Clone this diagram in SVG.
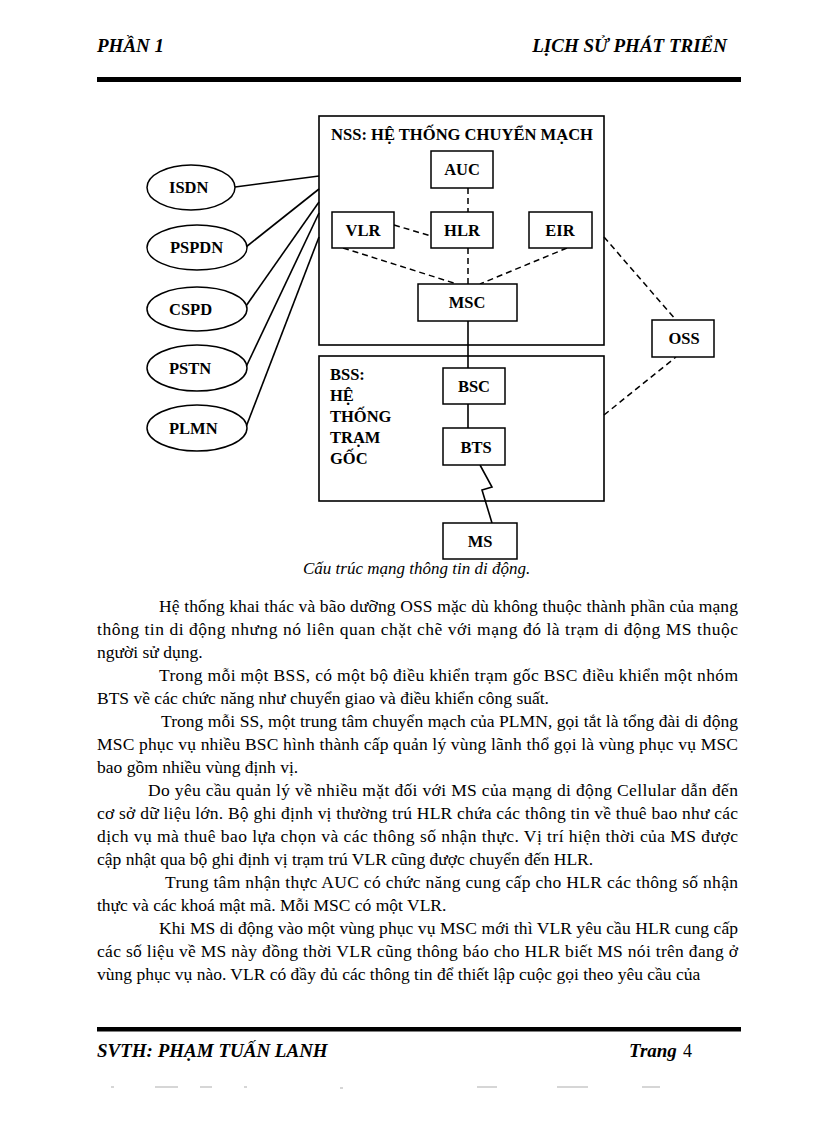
<svg xmlns="http://www.w3.org/2000/svg" width="816" height="1123" viewBox="0 0 816 1123">
<style>
  .hdr { font-family: "Liberation Serif", "Times New Roman", serif; font-weight: bold; font-style: italic; font-size: 19px; fill: #000; }
  .body { font-family: "Liberation Serif", "Times New Roman", serif; font-size: 17.5px; fill: #000; }
  .cap { font-family: "Liberation Serif", "Times New Roman", serif; font-style: italic; font-size: 17px; fill: #000; }
  .lbl { font-family: "Liberation Serif", "Times New Roman", serif; font-weight: bold; font-size: 16.5px; fill: #000; }
  .ttl { font-family: "Liberation Serif", "Times New Roman", serif; font-weight: bold; font-size: 16.6px; fill: #000; }
  .box { fill: #fff; stroke: #000; stroke-width: 1.5; }
  .frame { fill: none; stroke: #000; stroke-width: 1.6; }
  .solid { fill: none; stroke: #000; stroke-width: 1.6; }
  .dash { fill: none; stroke: #000; stroke-width: 1.5; stroke-dasharray: 6 4; }
  .mid { text-anchor: middle; }
  .noise { stroke: #bbb; stroke-width: 1.2; }
</style>

<!-- Header -->
<g id="header">
  <text class="hdr" x="97" y="52">PHẦN 1</text>
  <text class="hdr" x="727" y="52" text-anchor="end">LỊCH SỬ PHÁT TRIỂN</text>
  <rect x="97" y="77" width="644" height="5" fill="#000"/>
</g>

<!-- Containers -->
<g id="nss">
  <rect class="frame" x="319" y="116" width="285" height="229"/>
  <text class="ttl" x="331" y="140" textLength="262" lengthAdjust="spacingAndGlyphs">NSS: HỆ THỐNG CHUYỂN MẠCH</text>
</g>
<g id="bss">
  <rect class="frame" x="319" y="356" width="285" height="145"/>
  <text class="lbl" x="330" y="380">BSS:</text>
  <text class="lbl" x="330" y="401">HỆ</text>
  <text class="lbl" x="330" y="422">THỐNG</text>
  <text class="lbl" x="330" y="443">TRẠM</text>
  <text class="lbl" x="330" y="464">GỐC</text>
</g>

<!-- Connectors -->
<g id="connectors">
  <line class="solid" x1="235" y1="187" x2="319" y2="176"/>
  <line class="solid" x1="246" y1="247" x2="319" y2="189"/>
  <line class="solid" x1="246" y1="306" x2="319" y2="202"/>
  <line class="solid" x1="246" y1="367" x2="319" y2="213"/>
  <line class="solid" x1="246" y1="427" x2="319" y2="237"/>
  <line class="dash" x1="468" y1="188" x2="468" y2="212"/>
  <line class="dash" x1="468" y1="248" x2="468" y2="284"/>
  <line class="dash" x1="394" y1="225" x2="431" y2="236"/>
  <line class="dash" x1="343" y1="248" x2="457" y2="284"/>
  <line class="dash" x1="567" y1="248" x2="480" y2="284"/>
  <line class="dash" x1="604" y1="237" x2="676" y2="320"/>
  <line class="dash" x1="604" y1="415" x2="676" y2="357"/>
  <line class="solid" x1="468" y1="321" x2="468" y2="368"/>
  <line class="solid" x1="468" y1="404" x2="468" y2="428"/>
  <polyline class="solid" points="480,465 492,487 482,490 492,523"/>
</g>

<!-- Nodes -->
<g id="isdn"><ellipse class="box" cx="191" cy="187.5" rx="44" ry="22.5"/><text class="lbl" x="169" y="193">ISDN</text></g>
<g id="pspdn"><ellipse class="box" cx="197" cy="247.5" rx="50" ry="22.5"/><text class="lbl" x="170" y="253">PSPDN</text></g>
<g id="cspd"><ellipse class="box" cx="197" cy="309" rx="50" ry="22"/><text class="lbl" x="169" y="315">CSPD</text></g>
<g id="pstn"><ellipse class="box" cx="197" cy="368" rx="50" ry="23"/><text class="lbl" x="169" y="374">PSTN</text></g>
<g id="plmn"><ellipse class="box" cx="197" cy="428" rx="50" ry="23"/><text class="lbl" x="169" y="434">PLMN</text></g>

<g id="auc"><rect class="box" x="431" y="151" width="62" height="37"/><text class="lbl mid" x="462" y="175">AUC</text></g>
<g id="vlr"><rect class="box" x="332" y="212" width="62" height="36"/><text class="lbl mid" x="363" y="236">VLR</text></g>
<g id="hlr"><rect class="box" x="431" y="212" width="62" height="36"/><text class="lbl mid" x="462" y="236">HLR</text></g>
<g id="eir"><rect class="box" x="529" y="212" width="63" height="36"/><text class="lbl mid" x="560" y="236">EIR</text></g>
<g id="msc"><rect class="box" x="418" y="284" width="99" height="37"/><text class="lbl mid" x="467" y="308">MSC</text></g>
<g id="oss"><rect class="box" x="652" y="320" width="62" height="37"/><text class="lbl mid" x="684" y="344">OSS</text></g>
<g id="bsc"><rect class="box" x="443" y="368" width="62" height="36"/><text class="lbl mid" x="474" y="392">BSC</text></g>
<g id="bts"><rect class="box" x="443" y="428" width="62" height="37"/><text class="lbl mid" x="476" y="453">BTS</text></g>
<g id="ms"><rect class="box" x="443" y="523" width="74" height="36"/><text class="lbl mid" x="480" y="547">MS</text></g>

<text class="cap" x="303" y="574">Cấu trúc mạng thông tin di động.</text>

<!-- Body text -->
<g id="body">
  <text class="body" x="159" y="612" textLength="579" lengthAdjust="spacing">Hệ thống khai thác và bão dưỡng OSS mặc dù không thuộc thành phần của mạng</text>
  <text class="body" x="97" y="635" textLength="641" lengthAdjust="spacing">thông tin di động nhưng nó liên quan chặt chẽ với mạng đó là trạm di động MS thuộc</text>
  <text class="body" x="97" y="658">người sử dụng.</text>
  <text class="body" x="159" y="681" textLength="579" lengthAdjust="spacing">Trong mỗi một BSS, có một bộ điều khiển trạm gốc BSC điều khiển một nhóm</text>
  <text class="body" x="97" y="704">BTS về các chức năng như chuyển giao và điều khiển công suất.</text>
  <text class="body" x="161" y="727" textLength="577" lengthAdjust="spacing">Trong mỗi SS, một trung tâm chuyển mạch của PLMN, gọi tắt là tổng đài di động</text>
  <text class="body" x="97" y="750" textLength="641" lengthAdjust="spacing">MSC phục vụ nhiều BSC hình thành cấp quản lý vùng lãnh thổ gọi là vùng phục vụ MSC</text>
  <text class="body" x="97" y="773">bao gồm nhiều vùng định vị.</text>
  <text class="body" x="148" y="796" textLength="590" lengthAdjust="spacing">Do yêu cầu quản lý về nhiều mặt đối với MS của mạng di động Cellular dẫn đến</text>
  <text class="body" x="97" y="819" textLength="641" lengthAdjust="spacing">cơ sở dữ liệu lớn. Bộ ghi định vị thường trú HLR chứa các thông tin về thuê bao như các</text>
  <text class="body" x="97" y="842" textLength="641" lengthAdjust="spacing">dịch vụ mà thuê bao lựa chọn và các thông số nhận thực. Vị trí hiện thời  của MS được</text>
  <text class="body" x="97" y="865">cập nhật qua bộ ghi định vị trạm trú VLR cũng được chuyển đến HLR.</text>
  <text class="body" x="165" y="888" textLength="573" lengthAdjust="spacing">Trung tâm nhận thực AUC có chức năng cung cấp cho HLR các thông số nhận</text>
  <text class="body" x="97" y="911">thực và các khoá mật mã. Mỗi MSC có một VLR.</text>
  <text class="body" x="159" y="934" textLength="579" lengthAdjust="spacing">Khi  MS di động vào một vùng phục vụ MSC mới thì VLR yêu cầu HLR cung cấp</text>
  <text class="body" x="97" y="957" textLength="641" lengthAdjust="spacing">các số liệu về MS này đồng thời VLR cũng thông báo cho HLR biết MS nói trên đang ở</text>
  <text class="body" x="97" y="980">vùng phục vụ nào. VLR có đầy đủ các thông tin để thiết lập cuộc gọi theo yêu cầu của</text>
</g>

<!-- Footer -->
<g id="footer">
  <rect x="97" y="1027" width="644" height="4.5" fill="#000"/>
  <text class="hdr" x="97" y="1057">SVTH: PHẠM TUẤN LANH</text>
  <text class="hdr" x="629" y="1057">Trang</text>
  <text class="body" x="683" y="1057" style="font-size:18px">4</text>
</g>

<!-- scan marks -->
<g id="marks">
  <line class="noise" x1="111" y1="1087" x2="114" y2="1087"/>
  <line class="noise" x1="155" y1="1087" x2="178" y2="1087"/>
  <line class="noise" x1="200" y1="1087" x2="212" y2="1087"/>
  <line class="noise" x1="244" y1="1087" x2="247" y2="1087"/>
  <line class="noise" x1="340" y1="1088" x2="343" y2="1088"/>
  <line class="noise" x1="477" y1="1087" x2="497" y2="1087"/>
  <line class="noise" x1="557" y1="1087" x2="588" y2="1087"/>
  <line class="noise" x1="642" y1="1087" x2="660" y2="1087"/>
</g>
</svg>
